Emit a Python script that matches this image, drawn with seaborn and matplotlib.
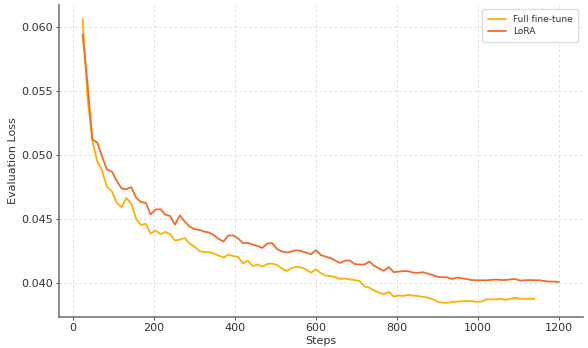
import numpy as np
import pandas as pd
import matplotlib
matplotlib.use("Agg")
import matplotlib.pyplot as plt
import seaborn as sns

steps = [24 + 12 * k for k in range(99)]

lora_loss = [
    0.05940, 0.05560, 0.05120, 0.05096, 0.04987, 0.04885, 0.04870, 0.04799, 0.04737, 0.04731,
    0.04748, 0.04666, 0.04631, 0.04625, 0.04534, 0.04573, 0.04575, 0.04534, 0.04522, 0.04455,
    0.04526, 0.04479, 0.04440, 0.04420, 0.04414, 0.04401, 0.04393, 0.04373, 0.04342, 0.04323,
    0.04370, 0.04370, 0.04346, 0.04311, 0.04312, 0.04299, 0.04288, 0.04273, 0.04307, 0.04311,
    0.04264, 0.04245, 0.04237, 0.04245, 0.04255, 0.04248, 0.04237, 0.04223, 0.04256, 0.04217,
    0.04205, 0.04194, 0.04174, 0.04156, 0.04174, 0.04174, 0.04147, 0.04143, 0.04143, 0.04166,
    0.04133, 0.04112, 0.04094, 0.04123, 0.04084, 0.04088, 0.04092, 0.04091, 0.04080, 0.04078,
    0.04083, 0.04073, 0.04061, 0.04047, 0.04044, 0.04044, 0.04030, 0.04041, 0.04036, 0.04030,
    0.04022, 0.04020, 0.04020, 0.04020, 0.04023, 0.04026, 0.04023, 0.04022, 0.04027, 0.04030,
    0.04018, 0.04020, 0.04022, 0.04020, 0.04020, 0.04014, 0.04010, 0.04010, 0.04006,
]

full_loss = [
    0.06060, 0.05450, 0.05110, 0.04950, 0.04877, 0.04750, 0.04716, 0.04625, 0.04592, 0.04663,
    0.04620, 0.04502, 0.04452, 0.04461, 0.04385, 0.04409, 0.04381, 0.04397, 0.04381, 0.04330,
    0.04338, 0.04350, 0.04307, 0.04284, 0.04248, 0.04241, 0.04239, 0.04229, 0.04213, 0.04198,
    0.04221, 0.04209, 0.04202, 0.04151, 0.04174, 0.04131, 0.04143, 0.04127, 0.04147, 0.04151,
    0.04139, 0.04112, 0.04092, 0.04116, 0.04125, 0.04120, 0.04104, 0.04079, 0.04106, 0.04077,
    0.04057, 0.04053, 0.04045, 0.04031, 0.04034, 0.04026, 0.04022, 0.04014, 0.03971, 0.03963,
    0.03940, 0.03924, 0.03911, 0.03930, 0.03893, 0.03902, 0.03898, 0.03907, 0.03901, 0.03897,
    0.03891, 0.03885, 0.03873, 0.03854, 0.03845, 0.03844, 0.03850, 0.03854, 0.03855, 0.03858,
    0.03858, 0.03852, 0.03854, 0.03871, 0.03871, 0.03871, 0.03875, 0.03868, 0.03876, 0.03884,
    0.03877, 0.03876, 0.03875, 0.03875,
]

series_names = ["Full fine-tune", "LoRA"]
colors = ["#FFB000", "#F26B2C"]

df = pd.concat([
    pd.DataFrame({"Steps": steps[:len(full_loss)], "Evaluation Loss": full_loss, "Method": series_names[0]}),
    pd.DataFrame({"Steps": steps, "Evaluation Loss": lora_loss, "Method": series_names[1]}),
], ignore_index=True)

sns.set_style("white")
plt.rcParams["font.family"] = ["DejaVu Sans"]

fig = plt.figure(figsize=(5.88, 3.48), dpi=100)
ax = fig.add_axes([0.100, 0.089, 0.891, 0.897])

sns.lineplot(data=df, x="Steps", y="Evaluation Loss", hue="Method",
             hue_order=series_names, palette=colors, linewidth=1.3, ax=ax)

ax.grid(True, linestyle=(0, (3, 3)), color="#d9d9d9", linewidth=0.6)
ax.set_axisbelow(True)
for s in ["top", "right"]:
    ax.spines[s].set_visible(False)
for s in ["left", "bottom"]:
    ax.spines[s].set_color("#777777")
    ax.spines[s].set_linewidth(1.2)

ax.set_xticks([0, 200, 400, 600, 800, 1000, 1200])
ax.set_yticks([0.040, 0.045, 0.050, 0.055, 0.060])
ax.tick_params(axis="both", labelsize=8, colors="#333333", length=2.5, width=0.6,
               direction="out", left=True, bottom=True, pad=2)
ax.xaxis.label.set_color("#333333")
ax.yaxis.label.set_color("#333333")
ax.set_xlabel("Steps", fontsize=8, labelpad=2)
ax.set_ylabel("Evaluation Loss", fontsize=8, labelpad=2)

leg = ax.legend(loc="upper right", fontsize=6.5, frameon=True, fancybox=True,
                edgecolor="#dddddd", framealpha=1.0, handlelength=2.0,
                borderpad=0.6, labelspacing=0.4)
for t in leg.get_texts():
    t.set_color("#333333")

fig.savefig("out.png", dpi=100)
